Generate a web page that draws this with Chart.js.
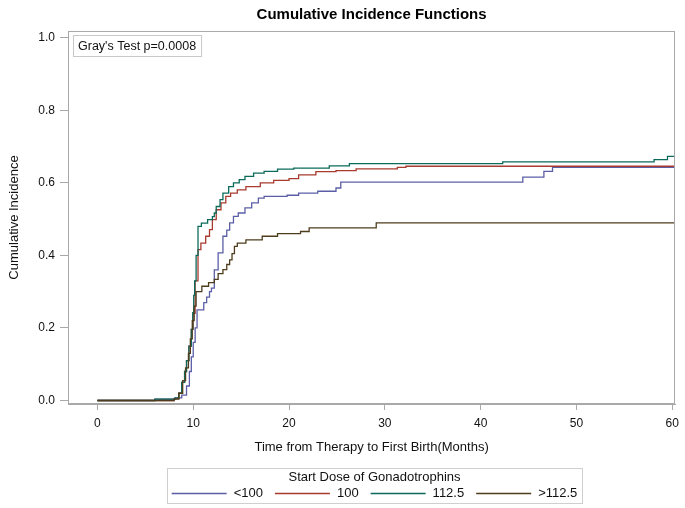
<!DOCTYPE html>
<html>
<head>
<meta charset="utf-8">
<script src="https://cdn.jsdelivr.net/npm/chart.js@4.4.1/dist/chart.umd.min.js"></script>
<style>
  html, body { margin: 0; padding: 0; background: #ffffff; }
  #wrap { width: 685px; height: 508px; }
</style>
</head>
<body>
<div id="wrap"><canvas id="cifChart" width="685" height="508"></canvas></div>
<script>
// series labels and colours
const seriesLabels = ['<100', '100', '112.5', '>112.5'];
const seriesColors = ['#5b5ea6', '#a83a2e', '#0b6b5a', '#4e3c1c'];

// start dose <100
const timesLt100 = [0, 6.0, 8.1, 8.8, 9.3, 9.6, 9.8, 10.0, 10.2, 10.4, 11.1, 11.4, 11.7, 11.9, 12.2, 12.6, 13.1, 13.5, 13.8, 14.2, 14.7, 15.4, 16.1, 16.8, 17.4, 19.8, 21.0, 23.0, 24.9, 25.4, 44.4, 46.6, 47.5, 60.3];
const cifLt100 = [0, 0.004, 0.007, 0.015, 0.04, 0.08, 0.12, 0.16, 0.2, 0.25, 0.27, 0.285, 0.30, 0.31, 0.36, 0.407, 0.453, 0.47, 0.49, 0.508, 0.517, 0.531, 0.545, 0.558, 0.563, 0.566, 0.572, 0.577, 0.586, 0.602, 0.616, 0.632, 0.643, 0.643];

// start dose 100
const times100 = [0, 8.0, 8.5, 8.8, 9.1, 9.3, 9.55, 9.8, 10.0, 10.2, 10.5, 10.8, 11.3, 11.7, 12.0, 12.4, 12.9, 13.4, 13.9, 14.6, 15.5, 17.0, 18.4, 20.0, 21.0, 22.8, 24.9, 27.0, 31.3, 32.2, 60.3];
const cif100 = [0, 0.005, 0.02, 0.05, 0.08, 0.11, 0.15, 0.196, 0.24, 0.33, 0.416, 0.434, 0.453, 0.471, 0.499, 0.526, 0.545, 0.563, 0.572, 0.581, 0.59, 0.60, 0.607, 0.612, 0.622, 0.631, 0.634, 0.639, 0.643, 0.646, 0.646];

// start dose 112.5
const times1125 = [0, 6.0, 8.1, 8.5, 8.8, 9.1, 9.3, 9.55, 9.8, 9.95, 10.05, 10.15, 10.3, 10.5, 10.85, 11.5, 12.0, 12.2, 12.4, 12.8, 13.1, 13.7, 14.2, 14.8, 15.4, 16.3, 17.4, 18.8, 20.5, 24.2, 26.3, 42.3, 58.1, 59.5, 60.3];
const cif1125 = [0, 0.004, 0.007, 0.02, 0.05, 0.08, 0.11, 0.15, 0.196, 0.242, 0.29, 0.33, 0.40, 0.48, 0.489, 0.499, 0.507, 0.517, 0.535, 0.554, 0.572, 0.59, 0.60, 0.609, 0.618, 0.627, 0.632, 0.638, 0.641, 0.647, 0.653, 0.658, 0.664, 0.673, 0.673];

// start dose >112.5
const timesGt1125 = [0, 8.0, 8.5, 8.9, 9.2, 9.5, 9.7, 9.9, 10.1, 10.3, 10.9, 11.6, 12.2, 12.6, 13.1, 13.5, 13.8, 14.05, 14.3, 14.6, 15.5, 17.2, 18.8, 21.2, 22.1, 29.1, 60.3];
const cifGt1125 = [0, 0.004, 0.02, 0.055, 0.09, 0.13, 0.17, 0.22, 0.26, 0.30, 0.315, 0.325, 0.334, 0.35, 0.361, 0.375, 0.388, 0.405, 0.425, 0.434, 0.443, 0.453, 0.46, 0.466, 0.476, 0.490, 0.490];

const xTickValues = [0, 10, 20, 30, 40, 50, 60];
const yTickValues = [0, 0.2, 0.4, 0.6, 0.8, 1.0];

const chartTitle = 'Cumulative Incidence Functions';
const testNote = "Gray's Test p=0.0008";
const legendTitle = 'Start Dose of Gonadotrophins';

const seriesTimes = [timesLt100, times100, times1125, timesGt1125];
const seriesCif = [cifLt100, cif100, cif1125, cifGt1125];

const FONT = '"Liberation Sans", Arial, sans-serif';
const frameColor = '#a9a9a9';

function toPoints(ts, vs) {
    return ts.map((t, i) => ({ x: t, y: vs[i] }));
}

// title, note box, frame and legend drawn by hand
const decorations = {
    id: 'decorations',
    afterDraw(chart) {
        const ctx = chart.ctx;
        const a = chart.chartArea;
        ctx.save();

        // frame round the plot
        ctx.strokeStyle = frameColor;
        ctx.lineWidth = 1;
        ctx.strokeRect(Math.round(a.left) + 0.5, Math.round(a.top) + 0.5,
            Math.round(a.right - a.left) - 1, Math.round(a.bottom - a.top) - 1);

        // title
        const cx = (a.left + a.right) / 2;
        ctx.fillStyle = '#000000';
        ctx.font = 'bold 15px ' + FONT;
        ctx.textAlign = 'center';
        ctx.textBaseline = 'middle';
        ctx.fillText(chartTitle, cx, 15);

        // Gray's test box
        ctx.font = '12.5px ' + FONT;
        const tw = ctx.measureText(testNote).width;
        const bx = a.left + 5, by = a.top + 4;
        ctx.strokeStyle = '#c8c8c8';
        ctx.strokeRect(bx + 0.5, by + 0.5, tw + 10, 21);
        ctx.textAlign = 'left';
        ctx.fillStyle = '#111111';
        ctx.fillText(testNote, bx + 5, by + 11.5);

        // legend
        const lineLen = 55, gapText = 7, gapItem = 12;
        ctx.font = '13px ' + FONT;
        const widths = seriesLabels.map(s => ctx.measureText(s).width);
        let total = 0;
        widths.forEach((w, i) => { total += lineLen + gapText + w + (i < widths.length - 1 ? gapItem : 0); });
        const lx0 = 167, lx1 = 582, ly0 = 468, ly1 = 503;
        ctx.strokeStyle = '#cfcfcf';
        ctx.strokeRect(lx0 + 0.5, ly0 + 0.5, lx1 - lx0, ly1 - ly0);
        const lcx = (lx0 + lx1) / 2;
        ctx.textAlign = 'center';
        ctx.fillStyle = '#111111';
        ctx.fillText(legendTitle, lcx, 477);
        let x = lcx - total / 2;
        const iy = 493;
        ctx.textAlign = 'left';
        seriesLabels.forEach((s, i) => {
            ctx.strokeStyle = seriesColors[i];
            ctx.lineWidth = 1.3;
            ctx.beginPath();
            ctx.moveTo(x, iy + 0.5);
            ctx.lineTo(x + lineLen, iy + 0.5);
            ctx.stroke();
            x += lineLen + gapText;
            ctx.fillText(s, x, iy);
            x += widths[i] + gapItem;
        });

        ctx.restore();
    }
};

new Chart(document.getElementById('cifChart').getContext('2d'), {
    type: 'line',
    data: {
        datasets: seriesLabels.map((lab, i) => ({
            label: lab,
            data: toPoints(seriesTimes[i], seriesCif[i]),
            borderColor: seriesColors[i],
            backgroundColor: seriesColors[i],
            borderWidth: 1.3,
            pointRadius: 0,
            stepped: 'before',
            fill: false,
            order: seriesLabels.length - i
        }))
    },
    options: {
        responsive: false,
        animation: false,
        devicePixelRatio: 1,
        layout: { padding: { top: 31, right: 9, bottom: 52, left: 0 } },
        plugins: {
            legend: { display: false },
            title: { display: false },
            tooltip: { enabled: false }
        },
        scales: {
            x: {
                type: 'linear',
                min: -3.07,
                max: 60.3,
                afterBuildTicks: s => { s.ticks = xTickValues.map(v => ({ value: v })); },
                afterFit: s => { s.height = 52; },
                grid: { display: true, drawOnChartArea: false, drawTicks: true, tickLength: 6, color: frameColor },
                border: { display: true, color: frameColor },
                ticks: {
                    color: '#111111',
                    padding: 6,
                    maxRotation: 0,
                    font: { family: FONT, size: 12 },
                    callback: v => String(v)
                },
                title: {
                    display: true,
                    text: 'Time from Therapy to First Birth(Months)',
                    color: '#111111',
                    font: { family: FONT, size: 13 },
                    padding: { top: 3, bottom: 1 }
                }
            },
            y: {
                type: 'linear',
                min: -0.0097,
                max: 1.019,
                afterBuildTicks: s => { s.ticks = yTickValues.map(v => ({ value: v })); },
                afterFit: s => { s.width = 68; },
                grid: { display: true, drawOnChartArea: false, drawTicks: true, tickLength: 8, color: frameColor },
                border: { display: true, color: frameColor },
                ticks: {
                    color: '#111111',
                    padding: 5,
                    font: { family: FONT, size: 12 },
                    callback: v => Number(v).toFixed(1)
                },
                title: {
                    display: true,
                    text: 'Cumulative Incidence',
                    color: '#111111',
                    font: { family: FONT, size: 13 },
                    padding: { top: 7, bottom: 4 }
                }
            }
        }
    },
    plugins: [decorations]
});
</script>
</body>
</html>
